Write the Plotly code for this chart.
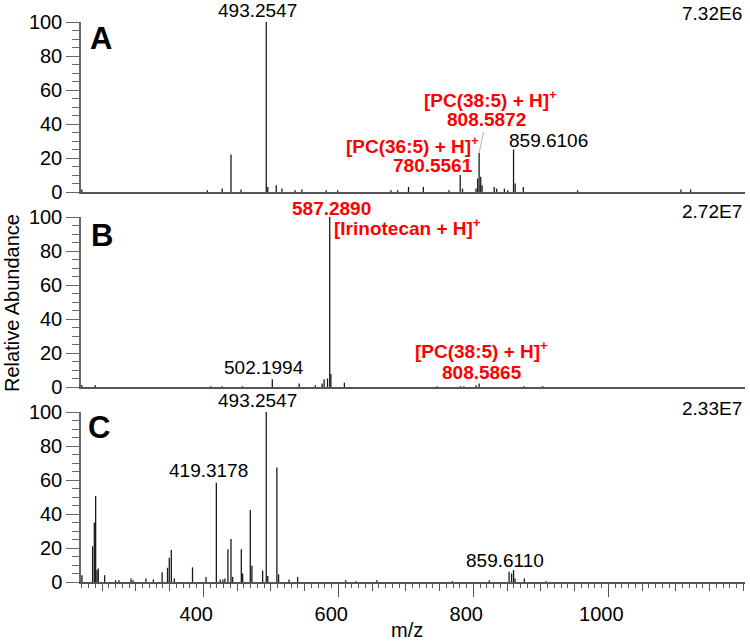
import plotly.graph_objects as go

# ---------------- data ----------------
mz_A = [220, 406, 428, 441, 456, 493.2547, 495.5, 508, 516.5, 536, 546, 582, 599, 678, 688,
        704, 726, 764, 780.5561, 784, 804, 806.5, 808.5872, 811, 813, 831, 834.5, 846, 851,
        859.6106, 862, 874, 954.5, 1107.6, 1122]
int_A = [1.5, 1, 2, 22, 1.5, 100, 3, 4, 2, 1, 1.5, 1, 1, 1, 1,
         3, 3, 1, 10, 2, 2, 8, 23, 9, 4, 3, 2, 2, 1,
         25, 5, 3, 1, 1.5, 1.5]

mz_B = [220, 240, 411, 428, 458, 502.1994, 542, 566, 576, 579, 584, 587.2890, 589, 609,
        746, 781, 786, 804, 808.5865, 875.5, 902.7]
int_B = [1, 1, 0.5, 0.5, 0.5, 4.5, 2, 1, 2, 4.5, 5, 100, 7.6, 2.5,
         0.5, 0.5, 0.5, 1, 2, 0.5, 0.5]

mz_C = [220.2, 236, 238.5, 240.5, 242.5, 244.4, 253.8, 270, 275, 293, 296, 315, 326, 339,
        347, 349.6, 352.6, 357, 384, 404, 419.3178, 425, 429, 432, 436.5, 441, 443.4, 456.3,
        458.3, 469.6, 472, 487.9, 493.2547, 495.5, 509, 511.5, 527, 539.7, 611, 626, 657,
        769, 823.7, 853, 856.7, 859.6110, 861.8, 875.6, 907.7]
int_C = [4, 21, 35, 50.6, 7, 8, 4, 1, 1, 2, 1, 2, 1.5, 5.7,
         8.4, 14.3, 18.8, 2, 8.6, 3, 58.4, 1.5, 1.5, 2, 19.2, 25.3, 3, 19.2,
         5, 42.4, 9.6, 6.7, 100, 3.5, 67.3, 4.5, 1.5, 3, 1, 0.5, 1,
         0.5, 1, 6, 5, 7, 2, 2, 0.5]

x_ticks = [400, 600, 800, 1000]
y_ticks = [0, 20, 40, 60, 80, 100]
scale_labels = ["7.32E6", "2.72E7", "2.33E7"]

# ---------------- layout geometry ----------------
W, H = 750, 642
ML, MR, MT, MB = 81, 5, 22, 60
PW, PH = W - ML - MR, H - MT - MB
X_RANGE = [218.8, 1202.5]
FONT = "Liberation Sans, Arial, sans-serif"
RED = "#ff0000"
AXC = "#555555"


def paper(xp, yp):
    return (xp - ML) / PW, (H - MB - yp) / PH


def dom(top_px, bot_px):
    return [(H - MB - bot_px) / PH, (H - MB - top_px) / PH]


def sticks(mz, inten):
    xs, ys = [], []
    for m, h in zip(mz, inten):
        xs += [m, m, None]
        ys += [0, h, None]
    return xs, ys


fig = go.Figure()
for i, (mz, it) in enumerate([(mz_A, int_A), (mz_B, int_B), (mz_C, int_C)]):
    xs, ys = sticks(mz, it)
    sfx = "" if i == 0 else str(i + 1)
    fig.add_trace(go.Scatter(x=xs, y=ys, mode="lines",
                             line=dict(color="#1a1a1a", width=1.3),
                             xaxis="x" + sfx, yaxis="y" + sfx,
                             showlegend=False, hoverinfo="skip"))
# helper trace for the medium-tick overlay axis
fig.add_trace(go.Scatter(x=[None], y=[None], xaxis="x4", yaxis="y3",
                         showlegend=False, hoverinfo="skip"))

domains = [dom(22, 192), dom(217, 387), dom(412, 582)]

yax = dict(range=[0, 100], showline=True, linecolor="#666666", linewidth=1.5,
           ticks="outside", tickvals=y_ticks, ticklen=13, tickwidth=1.3, tickcolor="#666666",
           minor=dict(dtick=5, ticklen=7, ticks="outside", tickcolor="#666666", tickwidth=1),
           tickfont=dict(family=FONT, size=20, color="#000"),
           showgrid=False, zeroline=False, fixedrange=True)

xax = dict(range=X_RANGE, showline=True, linecolor=AXC, linewidth=2,
           showgrid=False, zeroline=False, fixedrange=True)

layout = dict(
    width=W, height=H, margin=dict(l=ML, r=MR, t=MT, b=MB),
    paper_bgcolor="white", plot_bgcolor="white",
    font=dict(family=FONT, color="#000"),
    xaxis=dict(xax, anchor="y", ticks="", showticklabels=False),
    xaxis2=dict(xax, anchor="y2", ticks="", showticklabels=False),
    xaxis3=dict(xax, anchor="y3", ticks="outside", tickvals=x_ticks, ticklen=13,
                tickwidth=1.3, tickcolor=AXC,
                minor=dict(dtick=10, tick0=0, ticklen=4, ticks="outside", tickcolor=AXC, tickwidth=1),
                tickfont=dict(family=FONT, size=20, color="#000"), ticklabelshift=-7),
    xaxis4=dict(range=X_RANGE, overlaying="x3", anchor="y3", side="bottom",
                tickmode="linear", tick0=0, dtick=50, ticks="outside", ticklen=8,
                tickwidth=1, tickcolor=AXC, showticklabels=False, showline=False,
                showgrid=False, zeroline=False, fixedrange=True),
    yaxis=dict(yax, domain=domains[0], anchor="x"),
    yaxis2=dict(yax, domain=domains[1], anchor="x2"),
    yaxis3=dict(yax, domain=domains[2], anchor="x3"),
)
fig.update_layout(**layout)

ann = []


def txt(text, xp, yp, size=19, color="#000", bold=False, xanchor="center", **kw):
    x, y = paper(xp, yp)
    t = f"<b>{text}</b>" if bold else text
    ann.append(dict(text=t, x=x, y=y, xref="paper", yref="paper", xanchor=xanchor,
                    yanchor="middle", showarrow=False,
                    font=dict(family=FONT, size=size, color=color), **kw))


# panel letters
txt("A", 100.5, 38, size=31, bold=True)
txt("B", 102, 235, size=31, bold=True)
txt("C", 99, 427, size=31, bold=True)
# scale labels
txt(scale_labels[0], 744, 13, xanchor="right")
txt(scale_labels[1], 744, 211, xanchor="right")
txt(scale_labels[2], 744, 408, xanchor="right")
# panel A
txt(f"{mz_A[5]:.4f}", 257.5, 10)
txt("[PC(38:5) + H]<sup>+</sup>", 490, 99, color=RED, bold=True)
txt("[PC(36:5) + H]<sup>+</sup>", 412.5, 145, color=RED, bold=True)
txt(f"{mz_A[18]:.4f}", 432.5, 165, color=RED, bold=True)
txt(f"{mz_A[29]:.4f}", 548.8, 140)
# 808.5872 label with the thin green leader line to its peak
ann.append(dict(text=f"<b>{mz_A[22]:.4f}</b>", x=mz_A[22], y=int_A[22], xref="x", yref="y",
                showarrow=True, arrowhead=0, arrowwidth=1, arrowcolor="#88d088",
                ax=7, ay=-33, font=dict(family=FONT, size=19, color=RED)))
# panel B
txt(f"{mz_B[11]:.4f}", 331, 208, color=RED, bold=True)
txt("[Irinotecan + H]<sup>+</sup>", 407, 227, color=RED, bold=True)
txt(f"{mz_B[5]:.4f}", 263.7, 367)
txt("[PC(38:5) + H]<sup>+</sup>", 481.7, 350, color=RED, bold=True)
txt(f"{mz_B[18]:.4f}", 481.7, 372, color=RED, bold=True)
# panel C
txt(f"{mz_C[32]:.4f}", 257.5, 400)
txt(f"{mz_C[20]:.4f}", 208.3, 470)
txt(f"{mz_C[45]:.4f}", 505.3, 560)
# axis titles
txt("Relative Abundance", 12, 303, size=20, textangle=-90)
txt("m/z", 407, 630, size=20)

fig.update_layout(annotations=ann)
fig.write_html("out.html", config={"displayModeBar": False},
               post_script="document.body.style.margin='0';document.body.style.overflow='hidden';")
